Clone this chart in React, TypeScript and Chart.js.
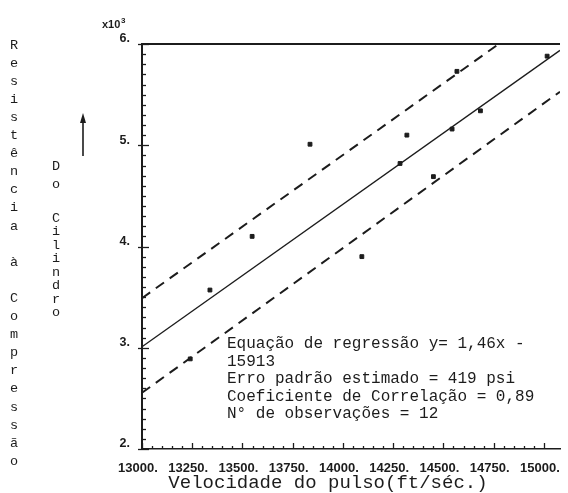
import React, { useEffect, useRef } from 'react';
import { Chart, registerables } from 'chart.js';

Chart.register(...registerables);

// ---- data ----
const pulseVelocity = [13240, 13338, 13548, 13836, 14094, 14284, 14318, 14450, 14543, 14567, 14684, 15016];
const strength = [2890, 3570, 4100, 5010, 3900, 4820, 5100, 4690, 5160, 5730, 5340, 5880];

const regressionX = [13000, 15080];
const regressionY = [3010, 5937];
const upperX = [13000, 14775];
const upperY = [3490, 6000];
const lowerX = [13000, 15080];
const lowerY = [2555, 5529];

const xTickValues = [13000, 13250, 13500, 13750, 14000, 14250, 14500, 14750, 15000];
const xTickLabels = ['13000.', '13250.', '13500.', '13750.', '14000.', '14250.', '14500.', '14750.', '15000.'];
const yTickValues = [2000, 3000, 4000, 5000, 6000];
const yTickLabels = ['2.', '3.', '4.', '5.', '6.'];

const yAxisTitle = 'Resistência à Compressão';
const yAxisSubtitleTop = 'Do';
const yAxisSubtitleBottom = 'Cilindro';
const xAxisTitle = 'Velocidade do pulso(ft/séc.)';
const annotationLines = [
  'Equação de regressão y= 1,46x -',
  '15913',
  'Erro padrão estimado = 419 psi',
  'Coeficiente de Correlação = 0,89',
  'N° de observações = 12',
];

const INK = '#1c1c1c';
const MONO = '"Liberation Mono", "DejaVu Sans Mono", monospace';
const SANS = '"Liberation Sans", Arial, sans-serif';

const decorPlugin = {
  id: 'decor',
  afterDraw(chart: any) {
    const { ctx, chartArea, scales } = chart;
    const xs = scales.x;
    const ys = scales.y;
    ctx.save();
    ctx.strokeStyle = INK;
    ctx.fillStyle = INK;

    // top frame line
    ctx.lineWidth = 2;
    ctx.beginPath();
    ctx.moveTo(chartArea.left, chartArea.top);
    ctx.lineTo(chartArea.right, chartArea.top);
    ctx.stroke();

    // y ticks (major + minor)
    ctx.lineWidth = 1.3;
    for (let v = yTickValues[0]; v <= yTickValues[yTickValues.length - 1]; v += 100) {
      const py = Math.round(ys.getPixelForValue(v)) + 0.5;
      const major = v % 1000 === 0;
      ctx.beginPath();
      ctx.moveTo(chartArea.left - (major ? 4 : 0), py);
      ctx.lineTo(chartArea.left + (major ? 7 : 4), py);
      ctx.stroke();
    }
    // x ticks (major + minor)
    for (let v = xTickValues[0]; v <= xTickValues[xTickValues.length - 1]; v += 50) {
      const px = Math.round(xs.getPixelForValue(v)) + 0.5;
      const major = v % 250 === 0;
      ctx.beginPath();
      ctx.moveTo(px, chartArea.bottom);
      ctx.lineTo(px, chartArea.bottom - (major ? 6 : 3));
      ctx.stroke();
    }

    // x10^3
    ctx.font = `bold 11px ${SANS}`;
    ctx.textBaseline = 'alphabetic';
    ctx.textAlign = 'left';
    ctx.fillText('x10', 102, 28);
    ctx.font = `bold 8px ${SANS}`;
    ctx.fillText('3', 121, 23);

    // x axis title
    ctx.font = `19px ${MONO}`;
    ctx.textAlign = 'center';
    ctx.textBaseline = 'middle';
    ctx.fillText(xAxisTitle, 328, 483);

    // stacked y axis title
    ctx.font = `13.5px ${MONO}`;
    Array.from(yAxisTitle).forEach((ch, i) => {
      if (ch !== ' ') ctx.fillText(ch, 14, 45 + i * 18.1);
    });
    Array.from(yAxisSubtitleTop).forEach((ch, i) => {
      ctx.fillText(ch, 56, 166 + i * 18);
    });
    Array.from(yAxisSubtitleBottom).forEach((ch, i) => {
      ctx.fillText(ch, 56, 218 + i * 13.5);
    });

    // arrow
    ctx.lineWidth = 1.6;
    ctx.beginPath();
    ctx.moveTo(83, 156);
    ctx.lineTo(83, 120);
    ctx.stroke();
    ctx.beginPath();
    ctx.moveTo(83, 113);
    ctx.lineTo(80, 123);
    ctx.lineTo(86, 123);
    ctx.closePath();
    ctx.fill();

    // annotation block
    ctx.font = `16px ${MONO}`;
    ctx.textAlign = 'left';
    ctx.textBaseline = 'middle';
    annotationLines.forEach((t, i) => {
      ctx.fillText(t, 227, 344 + i * 17.5);
    });

    ctx.restore();
  },
};

export default function App() {
  const canvasRef = useRef<HTMLCanvasElement | null>(null);

  useEffect(() => {
    if (!canvasRef.current) return;
    const chart = new Chart(canvasRef.current, {
      type: 'scatter',
      data: {
        datasets: [
          {
            label: 'Observações',
            data: pulseVelocity.map((x, i) => ({ x, y: strength[i] })),
            pointStyle: 'rect',
            pointRadius: 2.7,
            pointBackgroundColor: INK,
            pointBorderColor: INK,
            pointBorderWidth: 1,
            showLine: false,
          },
          {
            label: 'Regressão',
            data: regressionX.map((x, i) => ({ x, y: regressionY[i] })),
            showLine: true,
            borderColor: INK,
            borderWidth: 1.4,
            pointRadius: 0,
          },
          {
            label: 'Limite superior',
            data: upperX.map((x, i) => ({ x, y: upperY[i] })),
            showLine: true,
            borderColor: INK,
            borderWidth: 2,
            borderDash: [10, 7],
            pointRadius: 0,
          },
          {
            label: 'Limite inferior',
            data: lowerX.map((x, i) => ({ x, y: lowerY[i] })),
            showLine: true,
            borderColor: INK,
            borderWidth: 2,
            borderDash: [10, 7],
            pointRadius: 0,
          },
        ],
      },
      options: {
        animation: false,
        responsive: false,
        devicePixelRatio: 1,
        layout: { padding: { top: 44, right: 0, bottom: 0, left: 0 } },
        plugins: { legend: { display: false }, tooltip: { enabled: false } },
        scales: {
          x: {
            type: 'linear',
            min: 13000,
            max: 15080,
            grid: { display: false },
            border: { display: true, color: INK, width: 1.5 },
            afterBuildTicks: (scale: any) => {
              scale.ticks = xTickValues.map((v) => ({ value: v }));
            },
            afterFit: (scale: any) => {
              scale.height = 44;
            },
            ticks: {
              autoSkip: false,
              maxRotation: 0,
              padding: 4,
              labelOffset: -4,
              color: INK,
              font: { family: SANS, size: 13, weight: 'bold' },
              callback: (v: any) => xTickLabels[xTickValues.indexOf(Number(v))] ?? '',
            },
          },
          y: {
            type: 'linear',
            min: 2000,
            max: 6000,
            grid: { display: false },
            border: { display: true, color: INK, width: 2 },
            afterBuildTicks: (scale: any) => {
              scale.ticks = yTickValues.map((v) => ({ value: v }));
            },
            afterFit: (scale: any) => {
              scale.width = 142;
            },
            ticks: {
              padding: 4,
              labelOffset: -5,
              color: INK,
              font: { family: SANS, size: 12.5, weight: 'bold' },
              callback: (v: any) => yTickLabels[yTickValues.indexOf(Number(v))] ?? '',
            },
          },
        },
      },
      plugins: [decorPlugin],
    });
    return () => chart.destroy();
  }, []);

  return (
    <div style={{ position: 'absolute', left: 0, top: 0, width: 568, height: 493, background: '#fff' }}>
      <canvas ref={canvasRef} width={568} height={493} style={{ display: 'block' }} />
    </div>
  );
}
